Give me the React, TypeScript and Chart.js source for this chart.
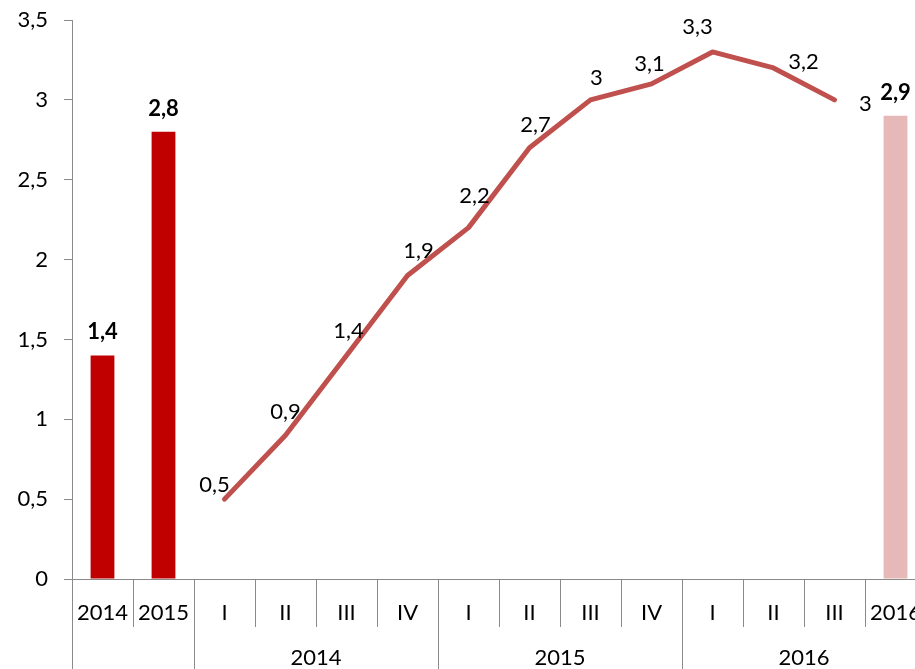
import React, { useEffect, useRef } from "react";
import { Chart, registerables } from "chart.js";

Chart.register(...registerables);

const categories = ["2014", "2015", "I", "II", "III", "IV", "I", "II", "III", "IV", "I", "II", "III", "2016"];
const groupLabels = ["", "2014", "2015", "2016"];
const groupSpans = [2, 4, 4, 4];
const annualValues = [1.4, 2.8, null, null, null, null, null, null, null, null, null, null, null, 2.9];
const quarterlyValues = [null, null, 0.5, 0.9, 1.4, 1.9, 2.2, 2.7, 3, 3.1, 3.3, 3.2, 3, null];
const yTicks = [0, 0.5, 1, 1.5, 2, 2.5, 3, 3.5];

// label placement tweaks (dx, dy) relative to each point, styling only
const lineLabelOffsets: [number, number][] = [
  [0, 0], [0, 0], [-10, -15], [0, -24], [2, -25], [11, -26], [6, -33], [6, -24], [6, -23], [-2, -21], [-15, -26], [30, -7], [31, 3], [0, 0],
];

const FONT = "Lato, 'Open Sans', sans-serif";
const FS = 22;
const fmt = (v: number) => String(v).replace(".", ",");
const AXIS_COLOR = "#8a8a8a";

const axisPlugin = {
  id: "multiAxis",
  afterDatasetsDraw(chart: any) {
    const ctx = chart.ctx;
    const x = chart.scales.x;
    const area = chart.chartArea;
    const n = categories.length;
    const bounds: number[] = [];
    for (let i = 0; i <= n; i++) {
      if (i === 0) bounds.push(area.left);
      else if (i === n) bounds.push(area.right);
      else bounds.push((x.getPixelForValue(i - 1) + x.getPixelForValue(i)) / 2);
    }
    ctx.save();
    ctx.strokeStyle = AXIS_COLOR;
    ctx.lineWidth = 1;
    ctx.beginPath();
    ctx.moveTo(area.left, Math.round(area.bottom) + 0.5);
    ctx.lineTo(chart.width, Math.round(area.bottom) + 0.5);
    ctx.stroke();
    const groupBounds = new Set<number>();
    let acc = 0;
    groupBounds.add(0);
    for (const s of groupSpans) { acc += s; groupBounds.add(acc); }
    for (let i = 0; i <= n; i++) {
      const bx = Math.round(bounds[i]) + 0.5;
      ctx.beginPath();
      ctx.moveTo(bx, area.bottom);
      ctx.lineTo(bx, groupBounds.has(i) ? chart.height : area.bottom + 48);
      ctx.stroke();
    }
    ctx.fillStyle = "#000";
    ctx.font = `${FS}px ${FONT}`;
    ctx.textAlign = "center";
    ctx.textBaseline = "alphabetic";
    categories.forEach((c, i) => {
      ctx.fillText(c, x.getPixelForValue(i), area.bottom + 41);
    });
    acc = 0;
    groupLabels.forEach((g, gi) => {
      const s = groupSpans[gi];
      const cx = (bounds[acc] + bounds[acc + s]) / 2;
      if (g) ctx.fillText(g, cx, area.bottom + 86);
      acc += s;
    });
    const barMeta = chart.getDatasetMeta(0);
    ctx.font = `bold ${FS}px ${FONT}`;
    annualValues.forEach((v, i) => {
      if (v == null) return;
      const el = barMeta.data[i];
      ctx.fillText(fmt(v), el.x, el.y - 16);
    });
    const lineMeta = chart.getDatasetMeta(1);
    ctx.font = `${FS}px ${FONT}`;
    quarterlyValues.forEach((v, i) => {
      if (v == null) return;
      const el = lineMeta.data[i];
      const [dx, dy] = lineLabelOffsets[i];
      ctx.fillText(fmt(v), el.x + dx, el.y + dy + 8);
    });
    ctx.restore();
  },
};

export default function App() {
  const ref = useRef<HTMLCanvasElement>(null);
  useEffect(() => {
    if (!ref.current) return;
    const barColors = annualValues.map((_, i) => (i === categories.length - 1 ? "#E6B9B8" : "#C00000"));
    const chart = new Chart(ref.current, {
      type: "bar",
      data: {
        labels: categories,
        datasets: [
          {
            type: "bar",
            data: annualValues as any,
            backgroundColor: barColors,
            categoryPercentage: 1,
            barPercentage: 0.39,
            order: 2,
          },
          {
            type: "line",
            data: quarterlyValues as any,
            borderColor: "#C0504D",
            borderWidth: 5,
            pointRadius: 0,
            tension: 0,
            borderCapStyle: "round",
            borderJoinStyle: "round",
            order: 1,
          } as any,
        ],
      },
      options: {
        responsive: false,
        animation: false,
        devicePixelRatio: 1,
        layout: { padding: { left: 0, top: 20, right: 4, bottom: 101 } },
        plugins: { legend: { display: false }, tooltip: { enabled: false } },
        scales: {
          x: { display: false, offset: true },
          y: {
            min: 0,
            max: 3.5,
            afterFit: (s: any) => { s.width = 72; s.paddingTop = 0; s.paddingBottom = 0; },
            afterBuildTicks: (s: any) => { s.ticks = yTicks.map((v) => ({ value: v })); },
            ticks: {
              padding: 16,
              color: "#000",
              font: { family: FONT, size: FS },
              callback: (v: any) => fmt(Number(v)),
            },
            grid: { drawOnChartArea: false, drawTicks: true, tickLength: 8, color: AXIS_COLOR },
            border: { display: true, color: AXIS_COLOR, width: 1 },
          },
        },
      },
      plugins: [axisPlugin],
    });
    return () => chart.destroy();
  }, []);
  return (
    <div style={{ position: "fixed", left: 0, top: 0, width: 930, height: 680 }}>
      <canvas ref={ref} width={930} height={680} />
    </div>
  );
}
